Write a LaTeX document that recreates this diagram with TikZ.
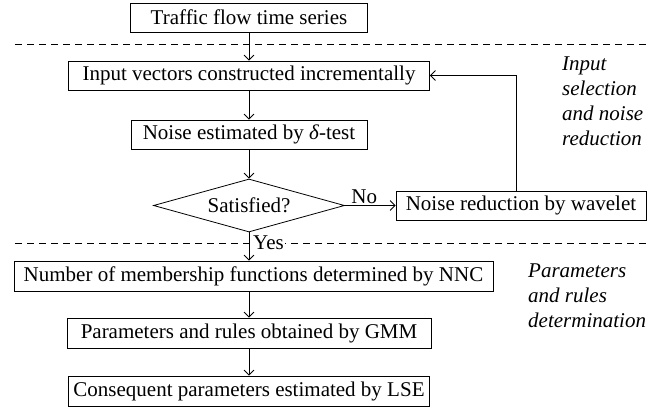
\documentclass[tikz,border=0pt]{standalone}
\usepackage{fontspec}
\setmainfont{Liberation Serif}
\usetikzlibrary{shapes.geometric,arrows.meta}
\begin{document}
\begin{tikzpicture}[x=1pt,y=-1pt,
  every node/.style={font=\fontsize{21}{25}\selectfont},
  stepbox/.style={draw, line width=0.8pt, minimum height=29pt, inner sep=0pt},
  decision/.style={draw, diamond, line width=0.8pt, aspect=3.6, minimum width=191pt, minimum height=53pt, inner sep=0pt},
  arr/.style={line width=0.8pt, -{Straight Barb[length=5pt,width=10pt]}},
  sepline/.style={line width=0.8pt, dash pattern=on 7pt off 5pt},
  lbl/.style={inner sep=1pt},
  side/.style={font=\fontsize{21}{25}\selectfont\itshape, align=left, anchor=north west, inner sep=0pt}]
\useasboundingbox (0,0) rectangle (663,409);

% separators
\draw[sepline] (15,44) -- (646,44);
\draw[sepline] (15,243) -- (646,243);

% nodes
\node[stepbox, minimum width=237pt] (b1) at (249,17.5) {Traffic flow time series};
\node[stepbox, minimum width=361pt] (b2) at (249,75.5) {Input vectors constructed incrementally};
\node[stepbox, minimum width=236pt] (b3) at (249,134.5) {Noise estimated by \textit{δ}-test};
\node[decision] (d) at (249,205.5) {Satisfied?};
\node[stepbox, minimum width=250pt] (wav) at (521,205.5) {Noise reduction by wavelet};
\node[stepbox, minimum width=479pt, minimum height=30pt] (nnc) at (253.5,276) {Number of membership functions determined by NNC};
\node[stepbox, minimum width=364pt, minimum height=30pt] (gmm) at (249,333) {Parameters and rules obtained by GMM};
\node[stepbox, minimum width=361pt, minimum height=30pt] (lse) at (249,391) {Consequent parameters estimated by LSE};

% side labels
\node[side] (s1) at (562,57) {Input\\selection\\and noise\\reduction};
\node[side] (s2) at (528,264) {Parameters\\and rules\\determination};

% connectors
\coordinate (fb) at (516,0);
\draw[arr] (b1) -- (b2);
\draw[arr] (b2) -- (b3);
\draw[arr] (b3) -- (d);
\draw[arr] (d) -- node[lbl, above, pos=0.38] (no) {No} (wav);
\draw[arr] (wav.north -| fb) |- (b2.east);
\draw[arr] (d.south) -- (d.south |- nnc.north);
\node[lbl, anchor=west, fill=white] (yes) at (252,243) {Yes};
\draw[arr] (nnc.south -| gmm) -- (gmm);
\draw[arr] (gmm) -- (lse);
\end{tikzpicture}
\end{document}
